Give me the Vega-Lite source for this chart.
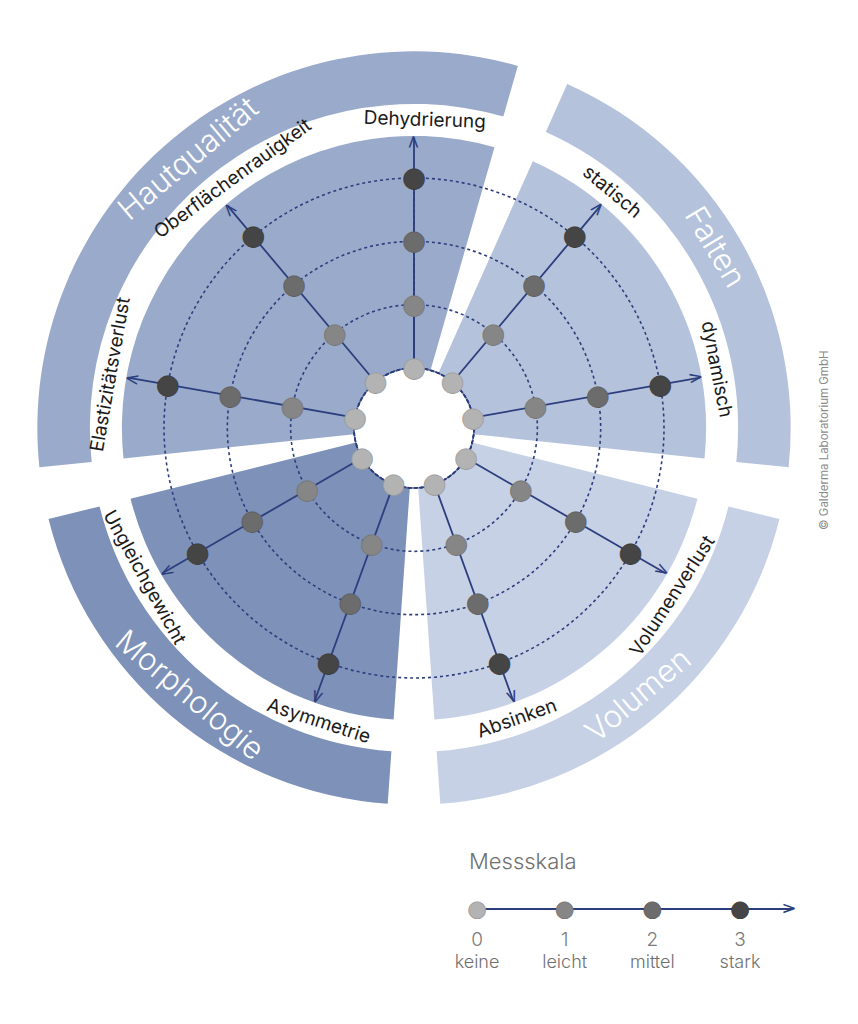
{
  "$schema": "https://vega.github.io/schema/vega-lite/v6.json",
  "padding": 0,
  "spacing": 0,
  "bounds": "flush",
  "background": "white",
  "config": {"view": {"stroke": null}},
  "datasets": {
    "groups": [
      {"group": "Hautqualität", "start": 264, "end": 376, "mid": 320},
      {"group": "Falten", "start": 24, "end": 96, "mid": 59},
      {"group": "Volumen", "start": 104, "end": 176, "mid": 140},
      {"group": "Morphologie", "start": 184, "end": 256, "mid": 220}
    ],
    "axes": [
      {"axis": "Dehydrierung", "group": "Hautqualität", "angle": 0, "labelAngle": 2},
      {"axis": "statisch", "group": "Falten", "angle": 40, "labelAngle": 40},
      {"axis": "dynamisch", "group": "Falten", "angle": 80, "labelAngle": 79},
      {"axis": "Volumenverlust", "group": "Volumen", "angle": 120, "labelAngle": 123},
      {"axis": "Absinken", "group": "Volumen", "angle": 160, "labelAngle": 160.5},
      {"axis": "Asymmetrie", "group": "Morphologie", "angle": 200, "labelAngle": 198},
      {"axis": "Ungleichgewicht", "group": "Morphologie", "angle": 240, "labelAngle": 241},
      {"axis": "Elastizitätsverlust", "group": "Hautqualität", "angle": 280, "labelAngle": 280},
      {"axis": "Oberflächenrauigkeit", "group": "Hautqualität", "angle": 320, "labelAngle": 324}
    ],
    "rings": [{"level": 0}, {"level": 1}, {"level": 2}, {"level": 3}],
    "points": [
      {"axis": "Dehydrierung", "angle": 0, "level": 0},
      {"axis": "Dehydrierung", "angle": 0, "level": 1},
      {"axis": "Dehydrierung", "angle": 0, "level": 2},
      {"axis": "Dehydrierung", "angle": 0, "level": 3},
      {"axis": "statisch", "angle": 40, "level": 0},
      {"axis": "statisch", "angle": 40, "level": 1},
      {"axis": "statisch", "angle": 40, "level": 2},
      {"axis": "statisch", "angle": 40, "level": 3},
      {"axis": "dynamisch", "angle": 80, "level": 0},
      {"axis": "dynamisch", "angle": 80, "level": 1},
      {"axis": "dynamisch", "angle": 80, "level": 2},
      {"axis": "dynamisch", "angle": 80, "level": 3},
      {"axis": "Volumenverlust", "angle": 120, "level": 0},
      {"axis": "Volumenverlust", "angle": 120, "level": 1},
      {"axis": "Volumenverlust", "angle": 120, "level": 2},
      {"axis": "Volumenverlust", "angle": 120, "level": 3},
      {"axis": "Absinken", "angle": 160, "level": 0},
      {"axis": "Absinken", "angle": 160, "level": 1},
      {"axis": "Absinken", "angle": 160, "level": 2},
      {"axis": "Absinken", "angle": 160, "level": 3},
      {"axis": "Asymmetrie", "angle": 200, "level": 0},
      {"axis": "Asymmetrie", "angle": 200, "level": 1},
      {"axis": "Asymmetrie", "angle": 200, "level": 2},
      {"axis": "Asymmetrie", "angle": 200, "level": 3},
      {"axis": "Ungleichgewicht", "angle": 240, "level": 0},
      {"axis": "Ungleichgewicht", "angle": 240, "level": 1},
      {"axis": "Ungleichgewicht", "angle": 240, "level": 2},
      {"axis": "Ungleichgewicht", "angle": 240, "level": 3},
      {"axis": "Elastizitätsverlust", "angle": 280, "level": 0},
      {"axis": "Elastizitätsverlust", "angle": 280, "level": 1},
      {"axis": "Elastizitätsverlust", "angle": 280, "level": 2},
      {"axis": "Elastizitätsverlust", "angle": 280, "level": 3},
      {"axis": "Oberflächenrauigkeit", "angle": 320, "level": 0},
      {"axis": "Oberflächenrauigkeit", "angle": 320, "level": 1},
      {"axis": "Oberflächenrauigkeit", "angle": 320, "level": 2},
      {"axis": "Oberflächenrauigkeit", "angle": 320, "level": 3}
    ],
    "scale": [
      {"level": 0, "word": "keine"},
      {"level": 1, "word": "leicht"},
      {"level": 2, "word": "mittel"},
      {"level": 3, "word": "stark"}
    ]
  },
  "vconcat": [
    {
      "width": 828,
      "height": 856,
      "resolve": {"scale": {"angle": "independent"}},
      "layer": [
        {
          "data": {"name": "groups"},
          "mark": {"type": "arc"},
          "encoding": {
            "theta": {"field": "start", "type": "quantitative", "stack": null, "scale": {"domain": [0, 360], "range": [0, 6.283185307], "zero": false}},
            "theta2": {"field": "end"},
            "radius": {"datum": 0, "type": "quantitative", "stack": null, "scale": {"type": "linear", "domain": [0, 3], "range": [60, 250], "zero": false}},
            "radius2": {"datum": 3.665},
            "color": {"field": "group", "type": "nominal", "legend": null,
              "scale": {"domain": ["Hautqualität", "Falten", "Volumen", "Morphologie"], "range": ["#9aaacb", "#b5c2dc", "#c7d1e6", "#7d91b9"]}}
          }
        },
        {
          "data": {"name": "groups"},
          "mark": {"type": "arc"},
          "encoding": {
            "theta": {"field": "start", "type": "quantitative", "stack": null},
            "theta2": {"field": "end"},
            "radius": {"datum": 4.17, "type": "quantitative", "stack": null},
            "radius2": {"datum": 5.0},
            "color": {"field": "group", "type": "nominal", "legend": null}
          }
        },
        {
          "data": {"name": "rings"},
          "mark": {"type": "arc", "fill": "transparent", "stroke": "#2c3e7d", "strokeWidth": 1.6, "strokeDash": [3, 3]},
          "encoding": {
            "theta": {"datum": 0, "type": "quantitative", "stack": null},
            "theta2": {"datum": 360},
            "radius": {"field": "level", "type": "quantitative", "stack": null}
          }
        },
        {
          "data": {"name": "axes"},
          "mark": {"type": "arc", "fill": "transparent", "stroke": "#2c3e7d", "strokeWidth": 1.8},
          "encoding": {
            "theta": {"field": "angle", "type": "quantitative", "stack": null},
            "theta2": {"field": "angle"},
            "radius": {"datum": 0, "type": "quantitative", "stack": null},
            "radius2": {"datum": 3.64}
          }
        },
        {
          "data": {"name": "points"},
          "mark": {"type": "text", "text": "●", "font": "DejaVu Sans", "fontSize": 27, "align": "center", "baseline": "middle", "strokeWidth": 0.8},
          "encoding": {
            "theta": {"field": "angle", "type": "quantitative", "stack": null},
            "radius": {"field": "level", "type": "quantitative", "stack": null},
            "fill": {"field": "level", "type": "ordinal", "legend": null,
              "scale": {"domain": [0, 1, 2, 3], "range": ["#b3b3b3", "#868686", "#6c6c6c", "#454545"]}},
            "stroke": {"field": "level", "type": "ordinal", "legend": null,
              "scale": {"domain": [0, 1, 2, 3], "range": ["#9c9c9c", "#767676", "#5e5e5e", "#3a3a3a"]}}
          }
        },
        {
          "data": {"name": "axes"},
          "mark": {"type": "text", "text": ">", "font": "DejaVu Sans", "fontSize": 18, "align": "center", "baseline": "middle", "fill": "#2c3e7d"},
          "encoding": {
            "theta": {"field": "angle", "type": "quantitative", "stack": null},
            "radius": {"datum": 3.57, "type": "quantitative", "stack": null},
            "angle": {"field": "angle", "type": "quantitative", "scale": {"domain": [0, 360], "range": [-90, 270], "zero": false}}
          }
        },
        {
          "data": {"name": "axes"},
          "mark": {"type": "text", "font": "Inter", "fontSize": 19, "align": "center", "baseline": "middle", "fill": "#1a1a1a"},
          "encoding": {
            "text": {"field": "axis"},
            "theta": {"field": "labelAngle", "type": "quantitative", "stack": null},
            "radius": {"datum": 3.92, "type": "quantitative", "stack": null},
            "angle": {"field": "labelAngle", "type": "quantitative",
              "scale": {"domain": [0, 90, 90.001, 270, 270.001, 360], "range": [0, 90, -89.999, 90, -89.999, 0], "zero": false}}
          }
        },
        {
          "data": {"name": "groups"},
          "mark": {"type": "text", "font": "Inter", "fontSize": 31, "fontWeight": 300, "align": "center", "baseline": "middle", "fill": "white"},
          "encoding": {
            "text": {"field": "group"},
            "theta": {"field": "mid", "type": "quantitative", "stack": null},
            "radius": {"datum": 4.58, "type": "quantitative", "stack": null},
            "angle": {"field": "mid", "type": "quantitative",
              "scale": {"domain": [0, 90, 90.001, 270, 270.001, 360], "range": [0, 90, -89.999, 90, -89.999, 0], "zero": false}}
          }
        },
        {
          "data": {"values": [{"credit": "© Galderma Laboratorium GmbH", "pos": 91.7}]},
          "mark": {"type": "text", "font": "Inter", "fontSize": 11.5, "angle": 270, "align": "center", "baseline": "middle", "fill": "#8a8a8a"},
          "encoding": {
            "text": {"field": "credit"},
            "theta": {"field": "pos", "type": "quantitative", "stack": null},
            "radius": {"datum": 5.545, "type": "quantitative", "stack": null}
          }
        }
      ]
    },
    {
      "width": 828,
      "height": 106,
      "layer": [
        {
          "data": {"values": [{}]},
          "mark": {"type": "rule", "color": "#2c3e7d", "strokeWidth": 1.8},
          "encoding": {
            "x": {"datum": 0, "type": "quantitative", "axis": null, "scale": {"domain": [0, 3], "range": [477, 740], "zero": false}},
            "x2": {"datum": 3.6}
          }
        },
        {
          "data": {"values": [{}]},
          "mark": {"type": "text", "text": ">", "font": "DejaVu Sans", "fontSize": 18, "align": "center", "baseline": "middle", "fill": "#2c3e7d"},
          "encoding": {"x": {"datum": 3.56, "type": "quantitative", "axis": null}}
        },
        {
          "data": {"name": "scale"},
          "mark": {"type": "text", "text": "●", "font": "DejaVu Sans", "fontSize": 22, "align": "center", "baseline": "middle", "strokeWidth": 0.8},
          "encoding": {
            "x": {"field": "level", "type": "quantitative", "axis": null},
            "fill": {"field": "level", "type": "ordinal", "legend": null,
              "scale": {"domain": [0, 1, 2, 3], "range": ["#b3b3b3", "#868686", "#6c6c6c", "#454545"]}},
            "stroke": {"field": "level", "type": "ordinal", "legend": null,
              "scale": {"domain": [0, 1, 2, 3], "range": ["#8c8c8c", "#767676", "#5e5e5e", "#3a3a3a"]}}
          }
        },
        {
          "data": {"name": "scale"},
          "mark": {"type": "text", "font": "Inter", "fontWeight": 300, "fontSize": 19, "align": "center", "baseline": "middle", "dy": 31, "fill": "#7a7a7a"},
          "encoding": {
            "x": {"field": "level", "type": "quantitative", "axis": null},
            "text": {"field": "level", "type": "quantitative"}
          }
        },
        {
          "data": {"name": "scale"},
          "mark": {"type": "text", "font": "Inter", "fontWeight": 300, "fontSize": 18, "align": "center", "baseline": "middle", "dy": 54, "fill": "#6f6f6f"},
          "encoding": {
            "x": {"field": "level", "type": "quantitative", "axis": null},
            "text": {"field": "word"}
          }
        },
        {
          "data": {"values": [{"title": "Messskala"}]},
          "mark": {"type": "text", "font": "Inter", "fontWeight": 300, "fontSize": 22, "align": "left", "baseline": "middle", "dx": -8, "dy": -47, "fill": "#6f6f6f"},
          "encoding": {
            "x": {"datum": 0, "type": "quantitative", "axis": null},
            "text": {"field": "title"}
          }
        }
      ]
    }
  ]
}
